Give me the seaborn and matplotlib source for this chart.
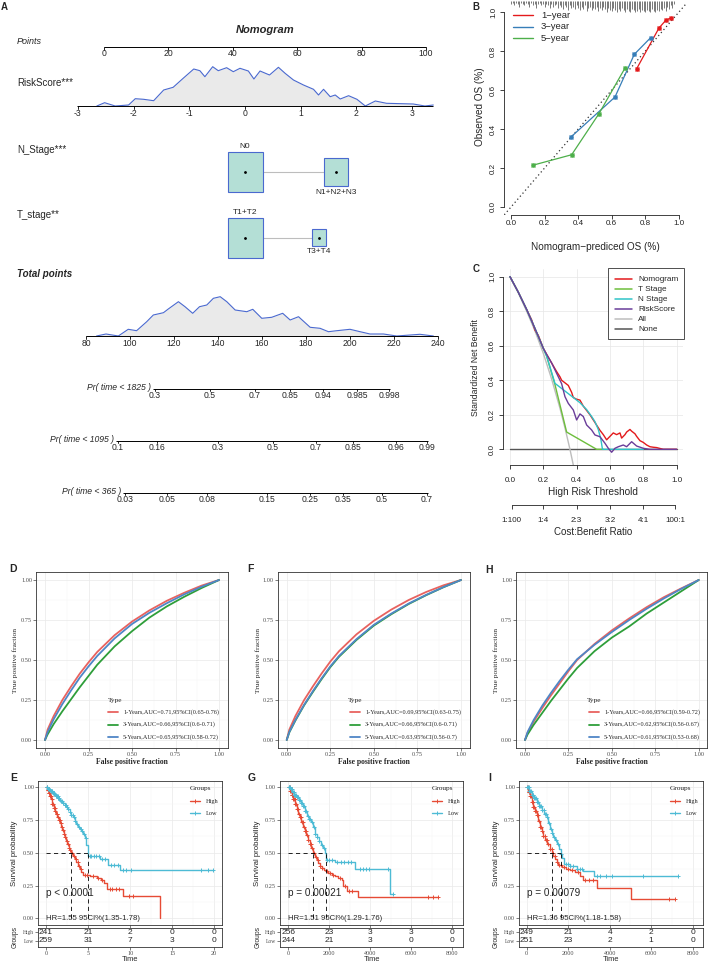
import numpy as np
import pandas as pd
import matplotlib
matplotlib.use("Agg")
import matplotlib.pyplot as plt
import seaborn as sns
from matplotlib.patches import Rectangle

# ======================= DATA =======================
# ---- A: nomogram ----
points_ticks = [0, 20, 40, 60, 80, 100]
riskscore_ticks = [-3, -2, -1, 0, 1, 2, 3]
riskscore_dens_x = [-2.66, -2.52, -2.33, -2.09, -1.97, -1.82, -1.64, -1.46, -1.29, -1.11, -0.92, -0.81,
                    -0.72, -0.58, -0.48, -0.33, -0.21, -0.09, 0.06, 0.16, 0.27, 0.44, 0.60, 0.72, 0.87,
                    1.05, 1.23, 1.32, 1.41, 1.53, 1.62, 1.71, 1.86, 2.01, 2.16, 2.34, 2.54, 3.02, 3.23, 3.38]
riskscore_dens_h = [0, 3.3, 0, 1, 7.3, 6.7, 5.3, 16, 18.7, 27.7, 37, 35.3, 29.3, 39.3, 35.3, 38.3, 34.3,
                    37.7, 35, 27, 35, 31, 38.7, 32.7, 26, 21, 16.7, 11, 16.7, 9.3, 11, 7, 10.3, 6.7, 0,
                    5, 2.7, 2, 0, 1]
n_levels = ["N0", "N1+N2+N3"]
n_points = [43.8, 72.0]
n_freq = [0.67, 0.33]
t_levels = ["T1+T2", "T3+T4"]
t_points = [43.8, 66.8]
t_freq = [0.86, 0.14]
total_ticks = [80, 100, 120, 140, 160, 180, 200, 220, 240]
total_dens_x = [84.8, 89.1, 94.7, 99.2, 103.0, 107.6, 110.6, 115.2, 117.4, 122.0, 125.0, 128.5, 131.6,
                134.9, 137.9, 141.0, 144.0, 147.8, 153.1, 155.8, 159.9, 164.4, 169.4, 172.8, 176.6,
                181.9, 186.4, 190.2, 194.0, 200.0, 204.6, 209.1, 215.2, 221.2, 231.8, 237.9]
total_dens_h = [0, 2, 0, 6.7, 5.3, 14.3, 21, 23.3, 27, 34.3, 29.3, 22.7, 29.3, 31, 37.7, 39.3, 34.3, 26,
                24.3, 26.7, 17.7, 18.7, 22.7, 16, 19.3, 8.7, 7.7, 4.3, 5.3, 6.7, 4.3, 2, 2, 0, 1.7, 0]
pr1825_labels = ["0.3", "0.5", "0.7", "0.85", "0.94", "0.985", "0.998"]
pr1825_at = [111.4, 136.4, 156.8, 172.7, 187.7, 203.2, 217.7]
pr1095_labels = ["0.1", "0.16", "0.3", "0.5", "0.7", "0.85", "0.96", "0.99"]
pr1095_at = [94.5, 112.3, 140.0, 165.0, 184.5, 201.4, 220.9, 235.0]
pr365_labels = ["0.03", "0.05", "0.08", "0.15", "0.25", "0.35", "0.5", "0.7"]
pr365_at = [97.7, 116.8, 135.0, 162.3, 181.8, 196.8, 214.5, 235.0]

# ---- B: calibration ----
cal_ticks = [0.0, 0.2, 0.4, 0.6, 0.8, 1.0]
cal_labels = ["1\u2212year", "3\u2212year", "5\u2212year"]
cal1_pred = [0.748, 0.881, 0.921, 0.950]
cal1_obs = [0.709, 0.918, 0.957, 0.969]
cal3_pred = [0.357, 0.619, 0.734, 0.831]
cal3_obs = [0.359, 0.564, 0.783, 0.868]
cal5_pred = [0.129, 0.361, 0.524, 0.679]
cal5_obs = [0.214, 0.268, 0.479, 0.713]
rug_start, rug_step = 0.0, 0.01
rug_heights = [0.3, 0.2, 0.4, 0.2, 0.3, 0.5, 0.2, 0.3, 0.4, 0.2,
               0.3, 0.5, 0.2, 0.4, 0.3, 0.6, 0.3, 0.2, 0.4, 0.3,
               0.5, 0.3, 0.4, 0.6, 0.3, 0.5, 0.4, 0.3, 0.6, 0.4,
               0.5, 0.7, 0.4, 0.5, 0.8, 0.4, 0.6, 0.5, 0.7, 0.4,
               0.6, 0.8, 0.5, 0.7, 0.4, 0.9, 0.6, 0.5, 0.8, 0.6,
               0.7, 0.5, 0.9, 0.6, 0.8, 0.5, 0.7, 1.0, 0.6, 0.8,
               0.9, 0.6, 0.8, 1.0, 0.7, 0.9, 0.6, 0.8, 1.0, 0.7,
               0.9, 1.0, 0.7, 0.8, 1.0, 0.9, 0.7, 1.0, 0.8, 0.9,
               1.0, 0.8, 0.9, 1.0, 0.7, 0.9, 1.0, 0.8, 0.9, 0.7,
               0.8, 0.6, 0.9, 0.5, 0.7, 0.4, 0.6, 0.3]

# ---- C: decision curve ----
dca_ticks = [0.0, 0.2, 0.4, 0.6, 0.8, 1.0]
dca_names = ["Nomogram", "T Stage", "N Stage", "RiskScore", "All", "None"]
nomo_x = [0, 0.05, 0.1, 0.13, 0.15, 0.17, 0.2, 0.22, 0.25, 0.28, 0.3, 0.31, 0.33, 0.35, 0.37, 0.38,
          0.40, 0.42, 0.44, 0.46, 0.48, 0.50, 0.52, 0.54, 0.56, 0.58, 0.60, 0.62, 0.64, 0.66, 0.67,
          0.69, 0.70, 0.72, 0.73, 0.75, 0.76, 0.78, 0.80, 0.82, 0.84, 0.86, 0.88, 0.90, 0.92, 0.95, 1.0]
nomo_y = [1.0, 0.91, 0.81, 0.75, 0.69, 0.66, 0.585, 0.55, 0.50, 0.45, 0.42, 0.40, 0.385, 0.37, 0.33,
          0.30, 0.29, 0.285, 0.25, 0.225, 0.20, 0.17, 0.14, 0.11, 0.085, 0.055, 0.075, 0.095, 0.085,
          0.095, 0.065, 0.085, 0.10, 0.115, 0.105, 0.09, 0.075, 0.05, 0.04, 0.025, 0.015, 0.012, 0.01,
          0.005, 0.0, 0.0, 0.0]
tst_x = [0, 0.05, 0.1, 0.15, 0.2, 0.22, 0.27, 0.34, 0.52, 0.56]
tst_y = [1.0, 0.91, 0.81, 0.70, 0.585, 0.54, 0.375, 0.10, 0.0, 0.0]
nst_x = [0, 0.05, 0.1, 0.15, 0.2, 0.22, 0.27, 0.32, 0.38, 0.42, 0.46, 0.49, 0.51, 0.53, 0.545, 0.555, 0.80]
nst_y = [1.0, 0.91, 0.81, 0.70, 0.585, 0.54, 0.382, 0.345, 0.30, 0.27, 0.23, 0.19, 0.16, 0.115, 0.06, 0.0, 0.0]
rsk_x = [0, 0.05, 0.1, 0.15, 0.2, 0.22, 0.25, 0.28, 0.31, 0.33, 0.35, 0.38, 0.40, 0.42, 0.44, 0.46,
         0.49, 0.51, 0.54, 0.57, 0.59, 0.61, 0.63, 0.65, 0.68, 0.70, 0.73, 0.76, 0.80, 0.84, 1.0]
rsk_y = [1.0, 0.91, 0.81, 0.70, 0.585, 0.55, 0.50, 0.44, 0.38, 0.305, 0.266, 0.228, 0.17, 0.205, 0.19,
         0.141, 0.112, 0.083, 0.073, 0.035, 0.006, -0.017, 0.006, 0.015, 0.025, 0.015, 0.044, 0.019,
         0.006, 0.0, 0.0]
all_x = [0, 0.05, 0.1, 0.15, 0.2, 0.25, 0.3, 0.33, 0.36, 0.39]
all_y = [1.0, 0.906, 0.80, 0.686, 0.556, 0.407, 0.238, 0.124, 0.0, -0.136]
none_x = [0.0, 1.0]
none_y = [0.0, 0.0]
cb_at = [0.0099, 0.2, 0.4, 0.6, 0.8, 0.99]
cb_labels = ["1:100", "1:4", "2:3", "3:2", "4:1", "100:1"]

# ---- D / F / H: time-dependent ROC ----
roc_ticks = [0.0, 0.25, 0.5, 0.75, 1.0]
roc_fpr = [0, 0.015, 0.05, 0.1, 0.15, 0.2, 0.25, 0.3, 0.4, 0.5, 0.6, 0.7, 0.8, 0.9, 1.0]
D_tpr_1y = [0, 0.065, 0.15, 0.25, 0.335, 0.415, 0.485, 0.55, 0.655, 0.74, 0.81, 0.87, 0.92, 0.965, 1.0]
D_tpr_3y = [0, 0.035, 0.10, 0.18, 0.255, 0.33, 0.40, 0.47, 0.585, 0.68, 0.765, 0.835, 0.895, 0.95, 1.0]
D_tpr_5y = [0, 0.05, 0.13, 0.225, 0.31, 0.39, 0.46, 0.525, 0.635, 0.725, 0.795, 0.855, 0.91, 0.958, 1.0]
F_tpr_1y = [0, 0.065, 0.15, 0.25, 0.335, 0.415, 0.49, 0.555, 0.66, 0.745, 0.815, 0.875, 0.925, 0.967, 1.0]
F_tpr_3y = [0, 0.048, 0.122, 0.217, 0.30, 0.38, 0.455, 0.52, 0.625, 0.715, 0.786, 0.85, 0.905, 0.955, 1.0]
F_tpr_5y = [0, 0.05, 0.125, 0.22, 0.305, 0.385, 0.46, 0.525, 0.63, 0.72, 0.79, 0.853, 0.907, 0.956, 1.0]
H_tpr_1y = [0, 0.045, 0.115, 0.20, 0.28, 0.355, 0.43, 0.50, 0.60, 0.685, 0.76, 0.83, 0.893, 0.948, 1.0]
H_tpr_3y = [0, 0.035, 0.095, 0.17, 0.245, 0.315, 0.385, 0.45, 0.555, 0.64, 0.71, 0.79, 0.86, 0.93, 1.0]
H_tpr_5y = [0, 0.05, 0.125, 0.215, 0.295, 0.37, 0.44, 0.505, 0.595, 0.675, 0.75, 0.82, 0.885, 0.945, 1.0]
D_labels = ["1-Years,AUC=0.71,95%CI(0.65-0.76)", "3-Years,AUC=0.66,95%CI(0.6-0.71)",
            "5-Years,AUC=0.65,95%CI(0.58-0.72)"]
F_labels = ["1-Years,AUC=0.69,95%CI(0.63-0.75)", "3-Years,AUC=0.66,95%CI(0.6-0.71)",
            "5-Years,AUC=0.63,95%CI(0.56-0.7)"]
H_labels = ["1-Years,AUC=0.66,95%CI(0.59-0.72)", "3-Years,AUC=0.62,95%CI(0.56-0.67)",
            "5-Years,AUC=0.61,95%CI(0.53-0.68)"]

# ---- E / G / I: Kaplan-Meier ----
surv_ticks = [0.0, 0.25, 0.5, 0.75, 1.0]
groups = ["High", "Low"]
# E (years)
E_time_ticks = [0, 5, 10, 15, 20]
E_high_t = [0, 0.15, 0.3, 0.45, 0.6, 0.75, 0.9, 1.05, 1.2, 1.35, 1.5, 1.65, 1.8, 1.95, 2.1, 2.25, 2.4,
            2.55, 2.7, 2.85, 3.0, 3.2, 3.4, 3.6, 3.8, 4.0, 4.2, 4.4, 5.2, 6.1, 6.5, 6.9, 7.3, 9.2, 13.6]
E_high_s = [1.0, 0.98, 0.96, 0.935, 0.91, 0.875, 0.845, 0.82, 0.80, 0.775, 0.75, 0.725, 0.70, 0.675,
            0.645, 0.62, 0.59, 0.565, 0.54, 0.52, 0.50, 0.475, 0.45, 0.43, 0.40, 0.375, 0.35, 0.33,
            0.322, 0.31, 0.29, 0.27, 0.225, 0.17, 0.0]
E_low_t = [0, 0.2, 0.4, 0.6, 0.8, 1.0, 1.2, 1.4, 1.6, 1.8, 2.0, 2.2, 2.4, 2.6, 2.8, 3.0, 3.2, 3.4, 3.6,
           3.8, 4.0, 4.2, 4.4, 4.6, 4.8, 4.95, 5.05, 6.4, 7.4, 8.8]
E_low_s = [1.0, 0.99, 0.98, 0.97, 0.96, 0.95, 0.935, 0.92, 0.905, 0.895, 0.88, 0.865, 0.85, 0.835,
           0.815, 0.79, 0.77, 0.745, 0.72, 0.70, 0.685, 0.67, 0.645, 0.615, 0.56, 0.53, 0.475, 0.455,
           0.41, 0.37]
E_ends = [13.6, 19.9]
E_high_cens = [0.1, 0.18, 0.25, 0.33, 0.4, 0.5, 0.58, 0.66, 0.75, 0.85, 0.95, 1.02, 1.12, 1.25, 1.32,
               1.45, 1.55, 1.62, 1.75, 1.88, 2.02, 2.15, 2.3, 2.45, 2.6, 2.75, 2.9, 3.1, 3.3, 3.55,
               3.75, 3.95, 4.15, 4.6, 4.9, 5.6, 6.2, 6.6, 7.6, 7.9, 8.3, 8.7, 9.9, 10.3]
E_low_cens = [0.08, 0.15, 0.22, 0.3, 0.38, 0.45, 0.52, 0.6, 0.68, 0.75, 0.85, 0.92, 1.0, 1.1, 1.2,
              1.3, 1.38, 1.48, 1.58, 1.7, 1.8, 1.92, 2.05, 2.2, 2.35, 2.5, 2.65, 2.8, 3.0, 3.15, 3.3,
              3.5, 3.7, 3.9, 4.1, 4.3, 4.5, 4.7, 5.2, 5.4, 5.7, 6.0, 6.3, 6.7, 7.0, 7.7, 8.1, 8.5,
              9.1, 9.5, 10.1, 18.4, 19.2, 19.8]
E_medians = [2.97, 5.0]
E_risk_high = [241, 21, 2, 0, 0]
E_risk_low = [259, 31, 7, 3, 0]
E_p = "p < 0.0001"
E_hr = "HR=1.55 95CI%(1.35-1.78)"
# G (days)
day_ticks = [0, 2000, 4000, 6000, 8000]
G_high_t = [0, 80, 160, 240, 320, 400, 480, 560, 640, 720, 800, 880, 960, 1040, 1120, 1220, 1300,
            1385, 1465, 1545, 1650, 1750, 1825, 1950, 2115, 2280, 2440, 2600, 2685, 2845, 3415]
G_high_s = [1, 0.97, 0.94, 0.91, 0.87, 0.835, 0.80, 0.77, 0.735, 0.70, 0.67, 0.635, 0.60, 0.57, 0.54,
            0.50, 0.47, 0.445, 0.42, 0.40, 0.385, 0.37, 0.36, 0.345, 0.33, 0.32, 0.31, 0.29, 0.25,
            0.21, 0.16]
G_low_t = [0, 100, 200, 300, 400, 500, 600, 700, 800, 900, 1000, 1100, 1200, 1300, 1400, 1500, 1600,
           1700, 1780, 1830, 1900, 2280, 3250, 4960]
G_low_s = [1, 0.985, 0.965, 0.945, 0.925, 0.905, 0.88, 0.855, 0.82, 0.78, 0.76, 0.735, 0.70, 0.645,
           0.62, 0.59, 0.56, 0.535, 0.50, 0.455, 0.445, 0.43, 0.38, 0.185]
G_ends = [7320, 5090]
G_high_cens = [30, 60, 95, 130, 165, 200, 240, 270, 310, 350, 390, 430, 470, 520, 560, 610, 650, 700,
               750, 800, 860, 920, 980, 1040, 1100, 1160, 1260, 1350, 1450, 1550, 1650, 1900, 2050,
               2200, 2500, 2750, 2950, 3100, 6830, 7070, 7320]
G_low_cens = [25, 55, 90, 120, 150, 190, 230, 270, 300, 340, 380, 420, 460, 500, 550, 600, 650, 700,
              760, 820, 880, 940, 1000, 1070, 1150, 1230, 1320, 1420, 1520, 1620, 1720, 1900, 2000,
              2150, 2400, 2550, 2700, 2900, 3050, 3500, 3650, 3800, 3950, 4850, 5090]
G_medians = [1220, 1825]
G_risk_high = [256, 23, 3, 3, 0]
G_risk_low = [244, 21, 3, 0, 0]
G_p = "p = 0.00021"
G_hr = "HR=1.51 95CI%(1.29-1.76)"
# I (days)
I_high_t = [0, 80, 160, 240, 320, 400, 480, 560, 640, 720, 800, 900, 1000, 1100, 1205, 1285, 1365,
            1445, 1525, 1690, 1900, 2090, 2330, 2570, 2700, 3370, 5020]
I_high_s = [1, 0.965, 0.93, 0.89, 0.85, 0.82, 0.79, 0.745, 0.70, 0.665, 0.63, 0.60, 0.565, 0.53, 0.50,
            0.475, 0.45, 0.43, 0.41, 0.39, 0.38, 0.37, 0.35, 0.32, 0.29, 0.23, 0.15]
I_low_t = [0, 120, 240, 360, 480, 600, 720, 840, 960, 1040, 1125, 1205, 1285, 1380, 1480, 1560, 1640,
           1720, 1800, 2090, 2400, 2730, 3250]
I_low_s = [1, 0.97, 0.94, 0.915, 0.89, 0.86, 0.83, 0.80, 0.77, 0.725, 0.68, 0.65, 0.62, 0.595, 0.57,
           0.53, 0.49, 0.46, 0.415, 0.40, 0.38, 0.36, 0.32]
I_ends = [7150, 7310]
I_high_cens = [30, 60, 95, 130, 165, 200, 240, 280, 320, 360, 400, 440, 490, 540, 590, 640, 690, 740,
               800, 860, 920, 980, 1050, 1120, 1200, 1280, 1360, 1450, 1550, 1650, 1800, 2000, 2200,
               2450, 2800, 3000, 3200, 6850, 7150]
I_low_cens = [25, 55, 90, 120, 160, 200, 240, 280, 320, 360, 400, 450, 500, 550, 600, 650, 700, 760,
              820, 880, 940, 1000, 1080, 1160, 1240, 1320, 1420, 1520, 1650, 1900, 2000, 2100, 2250,
              2400, 2550, 2650, 3400, 3550, 3800, 4100, 5600, 7310]
I_medians = [1205, 1640]
I_risk_high = [249, 21, 4, 2, 0]
I_risk_low = [251, 23, 2, 1, 0]
I_p = "p = 0.00079"
I_hr = "HR=1.36 95CI%(1.18-1.58)"

# ======================= STYLE =======================
sns.set_theme(style="white")
plt.rcParams['font.family'] = ['Liberation Sans', 'DejaVu Sans']
plt.rcParams['axes.unicode_minus'] = False
SERIF = ['Liberation Serif', 'DejaVu Serif']
SET1 = ['#E41A1C', '#377EB8', '#4DAF4A']
DCA_COLS = ['#E31A1C', '#6DBE3C', '#2FC3C8', '#6A3D9A', '#BDBDBD', '#555555']
ROC_COLS = ['#E8625F', '#2E9E3A', '#4F86C6']
KM_COLS = ['#E64B35', '#4DBBD5']

W, H = 709, 964
fig = plt.figure(figsize=(W / 100, H / 100), dpi=100)
fig.patch.set_facecolor('white')


def ax_px(x0, y0, x1, y1):
    a = fig.add_axes([x0 / W, 1 - y1 / H, (x1 - x0) / W, (y1 - y0) / H])
    a.set_facecolor('none')
    return a


ov = ax_px(0, 0, W, H)
ov.set_xlim(0, W)
ov.set_ylim(H, 0)
ov.axis('off')
ov.set_zorder(20)


def txt(x, y, s, **kw):
    kw.setdefault('ha', 'center')
    kw.setdefault('va', 'center')
    ov.text(x, y, s, **kw)


for s, x, y, fs in [("A", 4.5, 7, 7), ("B", 476, 6.5, 7), ("C", 476, 269, 7),
                    ("D", 13.5, 569.5, 7.5), ("E", 13.5, 778, 7.5), ("F", 250.5, 569.5, 7.5),
                    ("G", 251.5, 778, 7.5), ("H", 489.5, 570, 7.5), ("I", 489.5, 778, 7.5)]:
    txt(x, y, s, fontsize=fs, fontweight='bold')

# ======================= A: NOMOGRAM =======================
axA = ax_px(0, 0, 480, 500)
axA.set_xlim(0, 480)
axA.set_ylim(500, 0)
axA.axis('off')


def pts_x(p):
    return 104 + 3.22 * np.asarray(p, float)


def rs_x(v):
    return 245 + 55.7 * np.asarray(v, float)


def tp_x(t):
    return 86 + 2.2 * (np.asarray(t, float) - 80)


def scale_line(y, xs, labels, x0=None, x1=None, dy=6.5, fs=6.2):
    xs = np.asarray(xs, float)
    x0 = xs[0] if x0 is None else x0
    x1 = xs[-1] if x1 is None else x1
    axA.plot([x0, x1], [y, y], color='black', lw=0.7, solid_capstyle='butt')
    for x, lab in zip(xs, labels):
        axA.plot([x, x], [y, y + 2.5], color='black', lw=0.6)
        axA.text(x, y + dy, lab, ha='center', va='center', fontsize=fs)


def density(xs, hs, base):
    xs = np.asarray(xs, float)
    ys = base - np.asarray(hs, float)
    axA.fill_between(xs, ys, base, color='#EAEAEA', lw=0)
    sns.lineplot(x=xs, y=ys, ax=axA, color='#4A69CF', lw=0.8, sort=False, estimator=None)


def box_row(points, freq, levels, yc, wmax=35, hmax=40):
    fmax = max(freq)
    xs = pts_x(points)
    axA.plot(xs, [yc] * len(xs), color='#BDBDBD', lw=0.8, zorder=1)
    for i, (x, f, lev) in enumerate(zip(xs, freq, levels)):
        s = np.sqrt(f / fmax)
        w, h = wmax * s, hmax * s
        axA.add_patch(Rectangle((x - w / 2, yc - h / 2), w, h, facecolor='#B4DFD6',
                                edgecolor='#4A69CF', lw=0.8, zorder=2))
        axA.plot([x], [yc], marker='o', ms=1.0, color='black', zorder=3)
        if i % 2 == 0:
            axA.text(x, yc - h / 2 - 5, lev, ha='center', va='center', fontsize=6)
        else:
            axA.text(x, yc + h / 2 + 6, lev, ha='center', va='center', fontsize=6)


axA.text(265, 30, "Nomogram", ha='center', va='center', fontsize=8, fontweight='bold', style='italic')
axA.text(17, 41, "Points", ha='left', va='center', fontsize=6.5, style='italic')
scale_line(47, pts_x(points_ticks), [str(v) for v in points_ticks], dy=6)

axA.text(17, 83, "RiskScore***", ha='left', va='center', fontsize=7)
density(rs_x(riskscore_dens_x), riskscore_dens_h, 106)
scale_line(106, rs_x(riskscore_ticks), [str(v) for v in riskscore_ticks],
           x0=float(rs_x(-3.02)), x1=float(rs_x(riskscore_dens_x[-1])), dy=7)

axA.text(17, 150, "N_Stage***", ha='left', va='center', fontsize=7)
box_row(n_points, n_freq, n_levels, 172)
axA.text(17, 215, "T_stage**", ha='left', va='center', fontsize=7)
box_row(t_points, t_freq, t_levels, 237.5)

axA.text(17, 274, "Total points", ha='left', va='center', fontsize=7, fontweight='bold', style='italic')
density(tp_x(total_dens_x), total_dens_h, 336)
scale_line(336, tp_x(total_ticks), [str(v) for v in total_ticks], dy=7)

for lab, at, labels, y in [("Pr( time < 1825 )", pr1825_at, pr1825_labels, 388.7),
                           ("Pr( time < 1095 )", pr1095_at, pr1095_labels, 440.7),
                           ("Pr( time < 365 )", pr365_at, pr365_labels, 492.5)]:
    xs = tp_x(at)
    scale_line(y, xs, labels, x0=xs[0] - 2, x1=xs[-1] + 1, dy=6.8)
    axA.text(xs[0] - 4, y - 1.5, lab, ha='right', va='center', fontsize=6.2, style='italic')

# ======================= R-style axes helper =======================


def r_axes(ax, xt, yt, fs=5.8, xpad=1.0, ypad=2.0):
    for s in ['top', 'right']:
        ax.spines[s].set_visible(False)
    for s in ['left', 'bottom']:
        ax.spines[s].set_visible(True)
        ax.spines[s].set_color('#222222')
        ax.spines[s].set_linewidth(0.6)
    ax.spines['left'].set_bounds(min(yt), max(yt))
    ax.spines['bottom'].set_bounds(min(xt), max(xt))
    ax.set_xticks(xt, labels=[f"{v:.1f}" for v in xt], fontsize=fs)
    ax.set_yticks(yt, labels=[f"{v:.1f}" for v in yt], fontsize=fs, rotation=90, va='center')
    ax.tick_params(axis='both', which='major', direction='out', length=3, width=0.6,
                   color='#222222', bottom=True, left=True, labelcolor='#222222')
    ax.tick_params(axis='x', pad=xpad)
    ax.tick_params(axis='y', pad=ypad)
    ax.set_xlabel('')
    ax.set_ylabel('')


# ======================= B: CALIBRATION =======================
axB = ax_px(504.3, 4.2, 685.7, 214.8)
axB.set_xlim(-0.04, 1.04)
axB.set_ylim(-0.04, 1.04)
axB.axline((0, 0), (1, 1), ls=(0, (1, 2.2)), color='#333333', lw=0.9, zorder=1)
for xs, ys, col in [(cal1_pred, cal1_obs, SET1[0]), (cal3_pred, cal3_obs, SET1[1]),
                    (cal5_pred, cal5_obs, SET1[2])]:
    sns.lineplot(x=xs, y=ys, ax=axB, color=col, lw=0.9, marker='o', markersize=3.3,
                 markeredgewidth=0, sort=False, estimator=None, zorder=3)
    axB.plot(xs, ys, ls='none', marker='x', ms=2.6, mew=0.6, color=col, zorder=4)
rug_x = rug_start + rug_step * np.arange(len(rug_heights))
axB.vlines(rug_x, 1.056 - 0.056 * np.asarray(rug_heights), 1.056, color='#444444', lw=0.5,
           clip_on=False)
r_axes(axB, cal_ticks, cal_ticks, fs=5.8, xpad=1.0, ypad=2.2)
for i, (lab, col) in enumerate(zip(cal_labels, SET1)):
    y = 15 + 11.7 * i
    ov.plot([513, 533], [y, y], color=col, lw=1.0)
    txt(541, y, lab, ha='left', fontsize=6.8)
txt(480, 107, "Observed OS (%)", rotation=90, fontsize=7.2)
txt(595, 247, "Nomogram\u2212prediced OS (%)", fontsize=7.2)

# ======================= C: DCA =======================
axC = ax_px(503.3, 269.4, 683.3, 465.2)
axC.set_xlim(-0.04, 1.04)
axC.set_ylim(-0.092, 1.042)
r_axes(axC, dca_ticks, dca_ticks, fs=5.8, xpad=5.5, ypad=2.2)
axC.grid(True, color='#E6E6E6', lw=0.5)
axC.set_axisbelow(True)
dca_series = [(none_x, none_y, DCA_COLS[5]), (all_x, all_y, DCA_COLS[4]),
              (nomo_x, nomo_y, DCA_COLS[0]), (tst_x, tst_y, DCA_COLS[1]),
              (nst_x, nst_y, DCA_COLS[2]), (rsk_x, rsk_y, DCA_COLS[3])]
for xs, ys, col in dca_series:
    sns.lineplot(x=xs, y=ys, ax=axC, color=col, lw=1.0, sort=False, estimator=None)
axC.set_xlabel('')
axC.set_ylabel('')
# legend box
ov.add_patch(Rectangle((608, 268), 76, 71, facecolor='white', edgecolor='#333333', lw=0.6))
for i, (lab, col) in enumerate(zip(dca_names, DCA_COLS)):
    y = 279.3 + 10 * i
    ov.plot([615, 632], [y, y], color=col, lw=1.1)
    txt(638, y, lab, ha='left', fontsize=5.9)
txt(476, 368, "Standardized Net Benefit", rotation=90, fontsize=6.2)
txt(593, 492, "High Risk Threshold", fontsize=7.2)
# cost:benefit axis
axCB = ax_px(503.3, 495, 683.3, 505)
axCB.set_xlim(-0.04, 1.04)
axCB.set_ylim(0, 1)
for s in ['top', 'right', 'left']:
    axCB.spines[s].set_visible(False)
axCB.spines['bottom'].set_visible(True)
axCB.spines['bottom'].set_color('#222222')
axCB.spines['bottom'].set_linewidth(0.6)
axCB.spines['bottom'].set_bounds(cb_at[0], cb_at[-1])
axCB.set_xticks(cb_at, labels=cb_labels, fontsize=5.8)
axCB.set_yticks([])
axCB.tick_params(axis='x', bottom=True, direction='out', length=3, width=0.6, color='#222222',
                 pad=5.5, labelcolor='#222222')
txt(593, 532, "Cost:Benefit Ratio", fontsize=7)

# ======================= ggplot-style helper =======================


def mids(t):
    t = np.asarray(t, float)
    return t[:-1] + np.diff(t) / 2


def gg_axes(ax, xlim, ylim, xt, xlabels, yt, ylabels, grid=True, fs=4.5, yfs=None):
    yfs = fs if yfs is None else yfs
    ax.set_facecolor('white')
    ax.set_xlim(*xlim)
    ax.set_ylim(*ylim)
    ax.set_xticks(xt, labels=xlabels, fontsize=fs, fontfamily=SERIF, color='#4D4D4D')
    ax.set_yticks(yt, labels=ylabels, fontsize=yfs, fontfamily=SERIF, color='#4D4D4D')
    if grid:
        ax.set_xticks(mids(xt), minor=True)
        ax.set_yticks(mids(yt), minor=True)
        ax.grid(True, which='major', color='#EBEBEB', lw=0.55)
        ax.grid(True, which='minor', color='#F5F5F5', lw=0.3)
    else:
        ax.grid(False)
    ax.set_axisbelow(True)
    ax.tick_params(which='major', direction='out', length=2, width=0.45, color='#333333', pad=1,
                   bottom=True, left=True)
    ax.tick_params(which='minor', length=0, bottom=False, left=False)
    for s in ax.spines.values():
        s.set_visible(True)
        s.set_color('#333333')
        s.set_linewidth(0.6)


# ======================= D / F / H: ROC =======================
roc_tick_labels = [f"{v:.2f}" for v in roc_ticks]
for x0, x1, curves, labels, lx, tx, ylx in [
        (36.3, 227.7, [D_tpr_1y, D_tpr_3y, D_tpr_5y], D_labels, 108, 108, 15),
        (278.0, 469.7, [F_tpr_1y, F_tpr_3y, F_tpr_5y], F_labels, 350, 348.3, 257.7),
        (516.3, 707.4, [H_tpr_1y, H_tpr_3y, H_tpr_5y], H_labels, 589, 587.3, 496)]:
    ax = ax_px(x0, 572, x1, 748)
    gg_axes(ax, (-0.05, 1.05), (-0.05, 1.05), roc_ticks, roc_tick_labels, roc_ticks, roc_tick_labels)
    for tpr, col in zip(curves, ROC_COLS):
        sns.lineplot(x=roc_fpr, y=tpr, ax=ax, color=col, lw=1.3, sort=False, estimator=None)
    ax.set_xlabel('')
    ax.set_ylabel('')
    txt(tx, 700.7, "Type", ha='left', fontsize=5.3, fontfamily=SERIF)
    for i, (lab, col) in enumerate(zip(labels, ROC_COLS)):
        y = [712.3, 724.6, 737.0][i]
        ov.plot([lx, lx + 10], [y, y], color=col, lw=1.3)
        txt(lx + 15, y, lab, ha='left', fontsize=4.5, fontfamily=SERIF)
    txt(ylx, 660, "True positive fraction", rotation=90, fontsize=5.4, fontfamily=SERIF)
    txt((x0 + x1) / 2, 761.7, "False positive fraction", fontsize=5.5, fontfamily=SERIF,
        fontweight='bold')

# ======================= E / G / I: KM =======================
surv_tick_labels = [f"{v:.2f}" for v in surv_ticks]
km_specs = [
    dict(x0=38.3, x1=221.7, xlim=(-0.915, 20.88), xt=E_time_ticks,
         curves=[(E_high_t, E_high_s, E_high_cens), (E_low_t, E_low_s, E_low_cens)], ends=E_ends,
         med=E_medians, p=E_p, hr=E_hr, rh=E_risk_high, rl=E_risk_low, lab_x=15, leg_x=190),
    dict(x0=280.0, x1=463.3, xlim=(-405, 8537), xt=day_ticks,
         curves=[(G_high_t, G_high_s, G_high_cens), (G_low_t, G_low_s, G_low_cens)], ends=G_ends,
         med=G_medians, p=G_p, hr=G_hr, rh=G_risk_high, rl=G_risk_low, lab_x=257.7, leg_x=431.7),
    dict(x0=519.3, x1=703.3, xlim=(-357, 8511), xt=day_ticks,
         curves=[(I_high_t, I_high_s, I_high_cens), (I_low_t, I_low_s, I_low_cens)], ends=I_ends,
         med=I_medians, p=I_p, hr=I_hr, rh=I_risk_high, rl=I_risk_low, lab_x=496, leg_x=670),
]
for sp in km_specs:
    ax = ax_px(sp['x0'], 780.75, sp['x1'], 924.85)
    gg_axes(ax, sp['xlim'], (-0.05, 1.05), sp['xt'], [''] * len(sp['xt']), surv_ticks,
            surv_tick_labels)
    for (t, s, cens), end, col in zip(sp['curves'], sp['ends'], KM_COLS):
        xs = list(t) + ([end] if end > t[-1] else [])
        ys = list(s) + ([s[-1]] if end > t[-1] else [])
        sns.lineplot(x=xs, y=ys, ax=ax, color=col, lw=1.0, drawstyle='steps-post',
                     sort=False, estimator=None)
        idx = np.searchsorted(np.asarray(t, float), np.asarray(cens, float), side='right') - 1
        ax.plot(cens, np.asarray(s)[idx], ls='none', marker='+', ms=3.0, mew=0.7, color=col)
    ax.plot([0, max(sp['med'])], [0.5, 0.5], color='black', lw=0.6, ls=(0, (5, 4)), zorder=4)
    for m in sp['med']:
        ax.plot([m, m], [0, 0.5], color='black', lw=0.6, ls=(0, (5, 4)), zorder=4)
    ax.text(0, 0.19, sp['p'], ha='left', va='center', fontsize=7.2)
    ax.text(0, -0.005, sp['hr'], ha='left', va='center', fontsize=5.6)
    ax.set_xlabel('')
    ax.set_ylabel('')
    # legend
    lx = sp['leg_x']
    txt(lx + 11, 788.3, "Groups", fontsize=5.3, fontfamily=SERIF)
    for i, (g, col) in enumerate(zip(groups, KM_COLS)):
        y = [801.0, 813.3][i]
        ov.plot([lx, lx + 10], [y, y], color=col, lw=1.0)
        ov.plot([lx + 5], [y], marker='+', ms=3.2, mew=0.7, color=col)
        txt(lx + 15.7, y, g, ha='left', fontsize=4.6, fontfamily=SERIF)
    # risk table
    axT = ax_px(sp['x0'], 928, sp['x1'], 946.7)
    gg_axes(axT, sp['xlim'], (0.29, 2.51), sp['xt'], [str(v) for v in sp['xt']], [2, 1], groups,
            grid=False, fs=4.4, yfs=4.0)
    for tt, nh, nl in zip(sp['xt'], sp['rh'], sp['rl']):
        axT.text(tt, 2, str(nh), ha='center', va='center', fontsize=6)
        axT.text(tt, 1, str(nl), ha='center', va='center', fontsize=6)
    txt(sp['lab_x'], 853, "Survival probability", rotation=90, fontsize=5.6)
    txt(sp['lab_x'], 937, "Groups", rotation=90, fontsize=4.8)
    txt((sp['x0'] + sp['x1']) / 2, 959.5, "Time", fontsize=5.4)

fig.savefig("out.png", dpi=100, facecolor='white')
